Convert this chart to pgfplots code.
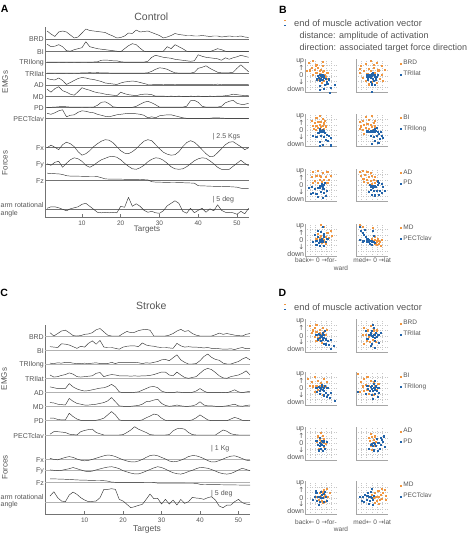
\documentclass[border=0pt]{standalone}
\usepackage{pgfplots}
\pgfplotsset{compat=1.18}
\usepackage{pgfplotstable}
\usepackage{fontspec}
\setmainfont{Liberation Sans}
\newfontfamily\dv{DejaVu Sans}
\definecolor{txt}{RGB}{85,85,85}
\definecolor{trc}{RGB}{55,55,55}
\definecolor{orgC}{RGB}{240,150,65}
\definecolor{bluC}{RGB}{35,100,170}

\pgfplotstableread{
t BRD BI TRIlong TRIlat AD MD PD PECT Fx Fy Fz ang
1 0.8 0.75 0.02 0.02 0.65 0.75 0 0.5 0 0.05 0.75 0.1
2 0.5 0.5 0.02 0.02 0.55 0.45 0 0.4 0.25 -0.1 0.72 0.25
3 0.25 0.55 0.02 0.03 0.5 0.8 0.02 0.55 0.05 0.2 0.7 0.25
4 0.7 0.7 0.03 0.02 0.7 1.0 0.05 0.75 -0.2 0.3 0.68 0.15
5 0.8 0.5 0.02 0.02 0.45 0.6 0.1 0.85 0.3 -0.3 0.62 0
6 0.7 0.1 0.03 0.03 0.05 0.45 0.05 0.15 0.55 0.1 0.5 -0.15
7 0.4 0.05 0.02 0.02 0.25 0.25 0.02 0.3 0.4 0.45 0.46 0.05
8 0.1 0.2 0.03 0.03 0.45 0.15 0.02 0.35 0.1 0.65 0.45 0.15
9 0.2 0.3 0.02 0.02 0.65 0.5 0.02 0.6 -0.4 0.55 0.45 0.25
10 0.6 0.4 0.03 0.04 0.75 0.9 0.03 0.75 -0.75 0.3 0.44 0.5
11 1.0 1.0 0.03 0.05 0.7 0.75 0.02 0.7 -0.6 -0.1 0.43 0.6
12 0.85 0.5 0.02 0.06 0.6 0.65 0.03 0.6 -0.3 -0.3 0.42 0.3
13 0.8 0.4 0.03 0.05 0.55 0.5 0.02 0.55 0.1 -0.1 0.42 0
14 0.75 0.3 0.05 0.06 0.45 0.4 0.2 0.4 0.4 0.2 0.41 -0.3
15 0.7 0.25 0.2 0.05 0.35 0.35 0.5 0.3 0.65 0.45 0.3 -0.35
16 0.65 0.2 0.22 0.04 0.2 0.25 0.55 0.2 0.8 0.6 0.18 -0.3
17 0.45 0.15 0.2 0.03 0.15 0.2 0.35 0.15 0.75 0.75 0.16 -0.35
18 0.3 0.1 0.15 0.02 0.1 0.15 0.05 0.25 0.5 0.8 0.16 -0.3
19 0.1 0.05 0.15 0.02 0.05 0.1 0 0.35 0.1 0.7 0.15 -0.35
20 0.15 0 0.05 0.02 0.2 0.45 0 0.4 -0.3 0.45 0.15 0.3
21 0.3 0.3 0.02 0.02 0.3 0.3 0 0.45 -0.55 0.1 0.14 0.2
22 0.6 0.6 0.02 0.02 0.35 0.2 0 0.5 -0.6 -0.2 0.14 1.2
23 0.55 0.8 0.02 0.02 0.4 0.15 0 0.5 -0.4 -0.45 0.13 0.3
24 0.9 0.7 0.02 0.02 0.35 0.1 0.1 0.45 -0.1 -0.5 0.13 0.55
25 0.7 0.35 0.02 0.02 0.25 0.2 0.3 0.4 0.3 -0.35 0.12 0.3
26 0.75 0.05 0.02 0.02 0.15 0.25 0.5 0.3 0.65 -0.1 0.1 -0.1
27 0.8 0 0.1 0.05 0.05 0.25 0.6 0.05 0.8 0.25 0.08 -0.3
28 0.65 0 0.5 0.2 0.05 0.2 0.45 0.15 0.7 0.5 -0.1 -0.2
29 0.5 0 0.7 0.4 0.03 0.05 0.25 0.05 0.3 0.65 -0.14 -0.35
30 0.35 0 0.6 0.55 0.03 0.05 0.02 0.25 -0.1 0.6 -0.15 -0.4
31 0.1 0.05 0.5 0.5 0.05 0.05 0.02 0.3 -0.45 0.4 -0.16 -0.15
32 0.2 0.5 0.45 0.4 0.03 0.04 0.02 0.35 -0.65 0.1 -0.17 0.35
33 0.35 0.3 0.4 0.2 0.03 0.05 0.02 0.35 -0.75 -0.25 -0.18 0.6
34 0.55 0.7 0.3 0.05 0.05 0.04 0.02 0.25 -0.7 -0.45 -0.18 0.85
35 0.45 0.5 0.25 0.02 0.03 0.05 0.02 0.15 -0.4 -0.5 -0.2 0.6
36 0.4 0.3 0.2 0.02 0.03 0.04 0.02 0.05 0.1 -0.45 -0.2 -0.2
37 0.35 0.05 0.15 0.02 0.03 0.03 0.1 0 0.5 -0.25 -0.22 -0.4
38 0.35 0 0.1 0.02 0.04 0.05 0.65 0 0.7 0.05 -0.23 0.1
39 0.3 0 0.15 0.1 0.03 0.04 0.7 0 0.55 0.35 -0.25 -0.35
40 0.3 0 0.75 0.5 0.03 0.05 0.5 0 0.2 0.55 -0.5 -0.1
41 0.35 0 0.6 0.6 0.03 0.04 0.1 0 -0.2 0.65 -0.52 0.1
42 0.3 0 0.5 0.75 0.04 0.03 0.02 0 -0.6 0.6 -0.53 -0.3
43 0.25 0 0.45 0.5 0.03 0.05 0.02 0 -0.9 0.35 -0.55 0.05
44 0.3 0.15 0.4 0.3 0.05 0.04 0.02 0.05 -0.85 0.05 -0.56 -0.15
45 0.3 0.3 0.35 0.1 0.08 0.05 0.02 0.05 -0.5 -0.3 -0.57 0.45
46 0.2 0.2 0.2 0.05 0.05 0.05 0.1 0.02 -0.1 -0.5 -0.58 -0.1
47 0.25 0.05 0.45 0.05 0.03 0.1 0.45 0 0.3 -0.5 -0.6 -0.3
48 0.3 0 0.3 0.05 0.03 0.15 0.6 0 0.55 -0.5 -0.6 -0.3
49 0.25 0 0.45 0.1 0.03 0.25 0.7 0 0.6 -0.2 -0.62 -0.35
50 0.25 0 0.55 0.5 0.03 0.2 0.4 0 0.35 0.1 -0.65 -0.5
51 0.3 0 0.7 0.85 0.03 0.15 0.3 0 0.1 0.4 -0.75 -0.2
52 0.2 0 0.6 0.5 0.03 0.12 0.3 0 -0.2 0.1 -0.8 -0.45
53 0.15 0 0.5 0.15 0.03 0.1 0.4 0 0 -0.15 -0.8 0.1
}\tA

\pgfplotstableread{
t BRD BI TRIlong TRIlat AD MD PD PECT Fx Fy Fz ang
1 0.4 0.4 0.1 0.4 0.7 0.5 0.3 0.1 0.15 0.2 0.85 2.0
2 0 0.35 0.05 0.15 0.6 0.45 0.3 0.4 -0.1 0.1 0.85 3.3
3 0.3 0.3 0.15 0.2 0.5 0.3 0.15 0.4 -0.2 0 0.82 1.5
4 0.6 0.75 0.1 0.35 0.5 0.25 0.1 0.35 0.1 0.1 0.8 0.5
5 0.7 0.7 0.2 0.45 0.5 0.2 0.1 0.3 0.4 0.3 0.75 0.3
6 0.4 0.6 0.2 0.65 1.1 1.0 0.9 0.1 0.6 0.5 0.7 2.3
7 0.05 0.4 0.1 0.5 0.7 0.65 0.5 0.05 0.4 0.8 0.65 3.2
8 0 0.2 0.05 0.2 0.45 0.4 0.2 0 0 0.5 0.6 2.5
9 0.05 0.45 0.05 0.15 0.3 0.3 0.05 0.4 -0.3 0.2 0.55 1.5
10 0.2 0.35 0.1 0.2 0.2 0.2 0.05 0.55 -0.45 -0.1 0.55 0.8
11 0.25 0.8 0.05 0.25 0.25 0.2 0.05 0.65 -0.35 -0.25 0.5 0.3
12 0.4 1.1 0.1 0.3 0.35 0.25 0.05 0.7 -0.1 -0.1 0.5 0.4
13 0.75 0.7 0.15 0.6 0.45 0.3 0.05 0.3 0.2 0.2 0.45 0.5
14 0.9 1.15 0.05 0.7 0.55 0.4 0.15 0.15 0.5 0.45 0.45 1.5
15 0.5 0.35 0.05 0.2 0.6 0.5 0.3 0 0.8 0.7 0.4 4.0
16 0.1 0.3 0.05 0.35 0.75 0.7 0.7 0 1.0 0.9 0.3 4.0
17 0 0.3 0.2 0.45 1.0 1.1 1.1 0 0.9 1.0 0.05 4.2
18 0 0.2 0.05 0.4 0.7 0.6 0.7 0 0.6 0.8 0 4.0
19 0 0.1 0.2 0.3 0.1 0.1 0.1 0 0.2 0.5 0 1.0
20 0.3 0.35 0.2 0.3 0 0.05 0 0.05 -0.2 0 -0.02 0.5
21 0.55 0.45 0.2 0.3 0 0.05 0 0.3 -0.5 -0.3 -0.02 -0.5
22 0.4 0.5 0.2 0.25 0 0.05 0 0.6 -0.7 -0.6 -0.03 -1.5
23 0.45 0.5 0.2 0.3 0.05 0.1 0 1.0 -0.75 -0.8 -0.03 -1.2
24 0.65 0.4 0.15 0.25 0.1 0.15 0 0.7 -0.5 -0.8 -0.04 -0.8
25 0.75 0.85 0.05 0.3 0.3 0.3 0.1 0.5 -0.1 -0.5 -0.04 -0.5
26 0.8 0.6 0.15 0.3 0.5 0.6 0.35 0.3 0.4 -0.1 -0.05 1.0
27 0.7 0.5 0.1 0.35 0.7 0.65 0.55 0.05 0.85 0.3 -0.05 2.6
28 0 0.45 0.2 0.45 0.75 0.8 0.8 0 1.0 0.7 -0.06 1.2
29 0 0.35 0.3 0.6 0.6 0.9 0.7 0 0.8 1.0 -0.2 1.3
30 0 0.3 0.5 0.75 0.2 0.4 0.3 0 0.4 0.8 -0.2 -0.4
31 0 0.3 0.55 0.75 0.05 0.15 0.05 0 0 0.4 -0.21 1.0
32 0.1 0.25 0.4 0.4 0 0.05 0 0.05 -0.5 -0.1 -0.21 -0.4
33 0.3 0.2 0.75 0.3 0 0.1 0 0.5 -0.7 -0.5 -0.22 0.8
34 0.6 0.8 1.1 0.75 0.1 0.2 0 0.75 -0.6 -0.75 -0.22 -0.7
35 0.8 0.5 0.5 0.4 0.05 0.1 0 0.8 -0.3 -0.85 -0.23 1.0
36 0.55 0.35 0.2 0.1 0 0.05 0 0.7 0.1 -0.6 -0.23 -0.2
37 0.65 0.4 0 0 0 0.05 0 0.3 0.6 -0.2 -0.24 0.3
38 0.3 0.35 0 0.1 0.05 0.1 0.1 0.05 0.85 0.1 -0.24 1.6
39 0.1 0.35 0.05 0.2 0.2 0.25 0.35 0 0.8 0.5 -0.25 1.4
40 0 0.3 0.4 0.6 0.5 0.6 0.7 0 0.5 0.8 -0.5 1.3
41 0 0.25 0.9 1.0 0.2 0.2 0.4 0 0.1 0.75 -0.55 1.0
42 0 0.3 1.2 1.2 0 0.1 0.1 0 -0.4 0.6 -0.56 1.5
43 0 0.2 0.8 1.05 0 0.1 0 0 -0.75 0.3 -0.57 1.8
44 0.15 0.2 0.55 0.7 0 0.05 0 0 -0.7 -0.1 -0.58 0.8
45 0.35 0.15 0.45 0.3 0 0.05 0 0.3 -0.4 -0.5 -0.6 -1.0
46 0.2 0.1 0.1 0.05 0.05 0.05 0 0.6 0 -0.75 -0.62 -1.5
47 0.3 0.1 0 0 0 0.1 0 0.45 0.4 -0.85 -0.64 -0.7
48 0.2 0.15 0 0.2 0.15 0.2 0.2 0.15 0.7 -0.7 -0.65 -0.7
49 0.1 0.05 0.15 0.3 0.35 0.3 0.4 0.05 0.8 -0.3 -0.66 0.3
50 0.05 0.2 0.3 0.4 0.1 0.1 0.25 0 0.5 0.2 -0.68 1.0
51 0 0.3 0.6 0.6 0 0.05 0.05 0 0.1 0.6 -0.69 0
52 0.2 0.15 0.8 0.9 0.1 0.15 0.05 0 -0.3 0.3 -0.7 -0.4
53 0.3 0.2 0.5 0.4 0.15 0.2 0 0 -0.4 0 -0.7 -0.6
}\tC

\pgfplotsset{
  trax/.style={scale only axis, anchor=south west,
    axis x line=bottom, axis y line=left,
    axis line style={-,black!55,line width=0.5pt},
    xtick={10,20,30,40,50}, ytick=\empty, tick align=inside,
    major tick length=3pt, tick style={black!55,line width=0.5pt},
    xticklabel style={font=\fontsize{6.5}{7}\selectfont, text=txt},
    /pgf/number format/assume math mode=true, clip=false},
  tr/.style={trc, line width=0.45pt, line join=round},
  baseA/.style={black!55, line width=0.45pt},
  baseC/.style={black!30, line width=0.9pt},
  sc/.style={scale only axis, anchor=south west, width=31.5pt, height=33pt,
    xmin=-1, xmax=1, ymin=-1, ymax=1, axis lines=left,
    axis line style={-,black!35,line width=0.5pt},
    xtick={-0.66,-0.33,0,0.33,0.66}, ytick={-0.66,-0.33,0,0.33,0.66},
    xticklabels={}, yticklabels={}, major tick length=0pt,
    grid=major, grid style={black!22, dotted, line width=0.3pt}, clip=false,
    legend style={at={(axis description cs:1.4,1.03)}, anchor=north west,
      draw=none, fill=none, font=\fontsize{6.5}{7}\selectfont, text=txt,
      inner sep=0pt, row sep=0.6pt, cells={anchor=west}},
    legend image code/.code={\draw[##1] plot coordinates {(0pt,0pt)};}},
  po/.style={only marks, mark=square*, mark size=0.55pt, color=orgC, mark options={line width=0.1pt}},
  pb/.style={only marks, mark=square*, mark size=0.55pt, color=bluC, mark options={line width=0.1pt}},
}

\tikzset{lab/.style={font=\fontsize{7}{8}\selectfont, text=txt, inner sep=0pt},
  lbl/.style={font=\bfseries\fontsize{10.5}{12}\selectfont, inner sep=0pt}}

\newcommand\ud[1]{%
  \node[lab, anchor=east] at (304.3pt,#1pt+30.5pt) {up};
  \node[lab] at (301.3pt,#1pt+24pt) {\dv ↑};
  \node[lab] at (301.3pt,#1pt+16.7pt) {0};
  \node[lab] at (301.3pt,#1pt+10pt) {\dv ↓};
  \node[lab, anchor=east] at (304.3pt,#1pt+3pt) {down};}

\begin{document}
\begin{tikzpicture}
\path[use as bounding box] (0pt,0pt) rectangle (467pt,534pt);

% ================= Panel A =================
\begin{axis}[trax, at={(45pt,316.5pt)}, width=204pt, height=190.8pt,
  xmin=0.46, xmax=53.1, ymin=0, ymax=190.8]
\pgfplotsinvokeforeach{178.5,165.8,155.2,144.2,132.5,120.8,110.2,99.2,69.8,53.2,36.8,8.2}{
  \addplot[baseA] coordinates {(0.46,#1) (53.1,#1)};}
\addplot[tr] table[x=t, y expr=178.5+10*\thisrow{BRD}] {\tA};
\addplot[tr] table[x=t, y expr=165.8+10*\thisrow{BI}] {\tA};
\addplot[tr] table[x=t, y expr=155.2+10*\thisrow{TRIlong}] {\tA};
\addplot[tr] table[x=t, y expr=144.2+10*\thisrow{TRIlat}] {\tA};
\addplot[tr] table[x=t, y expr=132.5+10*\thisrow{AD}] {\tA};
\addplot[tr] table[x=t, y expr=120.8+10*\thisrow{MD}] {\tA};
\addplot[tr] table[x=t, y expr=110.2+10*\thisrow{PD}] {\tA};
\addplot[tr] table[x=t, y expr=99.2+10*\thisrow{PECT}] {\tA};
\addplot[tr] table[x=t, y expr=69.8+10*\thisrow{Fx}] {\tA};
\addplot[tr] table[x=t, y expr=53.2+10*\thisrow{Fy}] {\tA};
\addplot[tr] table[x=t, y expr=36.8+10*\thisrow{Fz}] {\tA};
\addplot[tr] table[x=t, y expr=8.2+10*\thisrow{ang}] {\tA};
\end{axis}

% ================= Panel C =================
\begin{axis}[trax, at={(45pt,19.7pt)}, width=205.4pt, height=189.3pt,
  xmin=-0.3, xmax=53.1, ymin=0, ymax=189.3]
\pgfplotsinvokeforeach{178.3,164.3,150.3,136,121.6,107.6,93.6,79.3,55.3,43.6,32,11.6}{
  \addplot[baseC] coordinates {(-0.3,#1) (53.1,#1)};}
\addplot[tr] table[x=t, y expr=178.3+8.3*\thisrow{BRD}] {\tC};
\addplot[tr] table[x=t, y expr=164.3+8.3*\thisrow{BI}] {\tC};
\addplot[tr] table[x=t, y expr=150.3+8.3*\thisrow{TRIlong}] {\tC};
\addplot[tr] table[x=t, y expr=136+8.3*\thisrow{TRIlat}] {\tC};
\addplot[tr] table[x=t, y expr=121.6+8.3*\thisrow{AD}] {\tC};
\addplot[tr] table[x=t, y expr=107.6+8.3*\thisrow{MD}] {\tC};
\addplot[tr] table[x=t, y expr=93.6+8.3*\thisrow{PD}] {\tC};
\addplot[tr] table[x=t, y expr=79.3+8.3*\thisrow{PECT}] {\tC};
\addplot[tr] table[x=t, y expr=55.3+4*\thisrow{Fx}] {\tC};
\addplot[tr] table[x=t, y expr=43.6+4*\thisrow{Fy}] {\tC};
\addplot[tr] table[x=t, y expr=32+4*\thisrow{Fz}] {\tC};
\addplot[tr] table[x=t, y expr=11.6+3.33*\thisrow{ang}] {\tC};
\end{axis}

% ================= Panel B scatter =================
\begin{axis}[sc, at={(305pt,441.7pt)}]
\addplot[po] coordinates {(-0.8,0.8)(-0.5,0.9)(-0.3,0.7)(0.1,0.85)(-0.9,0.3)(-0.7,0.35)(-0.6,0.5)(-0.4,0.4)(-0.2,0.5)(0,0.4)(0.1,0.6)(0.2,0.3)(-0.3,0.2)(-0.1,0.15)(0.15,0.1)(-0.5,0.05)(0.3,-0.05)(0.2,-0.3)(0.05,-0.4)(-0.2,-0.2)(0.4,0.2)(-0.1,0.3)(0,-0.1)(0.1,0.25)(-0.35,0.6)(-0.05,0.05)(0.25,0.05)(0.35,-0.15)};
\addplot[pb] coordinates {(0,0)(-0.1,0.05)(0.05,-0.05)(-0.15,-0.1)(0.1,0.05)(-0.05,-0.15)(0.05,0.1)(-0.2,0)(0.15,-0.1)(0,-0.2)(0.1,-0.25)(-0.1,-0.3)(0.2,0)(0.3,-0.15)(0.5,-0.2)(0.4,-0.45)(0.25,-0.55)(-0.05,-0.6)(-0.1,-0.85)(0.6,-0.7)(0.85,-0.55)(0.55,-1.0)(0.15,-0.75)(-0.25,-0.2)(0.35,-0.35)};
\end{axis}
\begin{axis}[sc, at={(356pt,441.7pt)}]
\addplot[po] coordinates {(-0.7,0.6)(-0.4,0.75)(-0.1,0.9)(0.3,0.8)(0.6,0.6)(0.8,0.4)(-0.8,0.2)(-0.5,0.3)(-0.2,0.45)(0.1,0.5)(0.4,0.35)(0.6,0.1)(-0.6,-0.1)(-0.3,0.15)(0.2,0.2)(0.5,-0.15)(-0.4,-0.3)(0,-0.35)(0.3,-0.4)(-0.2,-0.5)(0.1,0.7)(-0.05,0.3)(0.7,-0.3)(-0.75,0.45)};
\addplot[pb] coordinates {(-0.3,-0.05)(-0.2,0.05)(-0.1,0.1)(0,0.12)(0.1,0.1)(0.2,0.05)(0.3,-0.05)(-0.15,-0.05)(0.15,-0.05)(0,0)(-0.05,-0.1)(0.05,-0.15)(-0.25,-0.2)(0.25,-0.2)(0.1,-0.3)(-0.1,-0.35)(0,-0.5)(0.2,-0.55)(0,-0.95)(-0.35,0.1)(0.35,0.1)(0.05,0.2)};
\legend{BRD,TRIlat}
\end{axis}
\begin{axis}[sc, at={(305pt,387.3pt)}]
\addplot[po] coordinates {(-0.6,0.6)(-0.3,0.75)(-0.1,0.9)(0.1,0.7)(-0.4,0.45)(-0.2,0.5)(0,0.55)(0.2,0.45)(-0.5,0.3)(-0.3,0.3)(-0.1,0.35)(0.1,0.3)(0.3,0.25)(-0.2,0.15)(0,0.2)(0.2,0.1)(-0.45,0.1)(0.05,0.05)(-0.15,0.55)(0.25,0.6)(-0.35,0.05)(0.15,0.4)};
\addplot[pb] coordinates {(0,0)(-0.1,-0.05)(0.1,0.05)(-0.05,0.1)(0.05,-0.1)(0.15,-0.05)(-0.15,-0.15)(0.25,-0.15)(0.35,-0.25)(0.5,-0.3)(0.6,-0.45)(0.2,-0.4)(0,-0.35)(-0.3,-0.4)(-0.5,-0.3)(-0.1,-0.7)(0.1,-0.85)(0.45,-0.65)(0.6,-0.9)(-0.1,-0.95)(0.3,-0.55)(-0.2,-0.15)};
\end{axis}
\begin{axis}[sc, at={(356pt,387.3pt)}]
\addplot[po] coordinates {(-0.8,0.5)(-0.6,0.6)(-0.4,0.8)(-0.2,0.65)(0,0.9)(-0.7,0.25)(-0.5,0.35)(-0.3,0.4)(-0.1,0.35)(0.1,0.45)(-0.6,0.05)(-0.4,0.15)(-0.2,0.1)(0,0.2)(0.2,0.25)(-0.3,-0.1)(0.15,0.6)(-0.5,-0.2)(-0.8,0.1)(0.05,0.05)};
\addplot[pb] coordinates {(0,0)(0.1,0.05)(0.2,0.1)(0.3,0.15)(-0.1,-0.05)(-0.2,-0.1)(0.05,-0.1)(0.15,-0.05)(0.25,0)(0.35,-0.1)(0.45,-0.2)(0.6,-0.3)(0.7,-0.45)(0.5,-0.5)(0.3,-0.35)(0.1,-0.4)(-0.1,-0.3)(0.2,-0.65)(0,-0.8)(0.4,-0.75)(-0.3,-0.05)(0.55,-0.1)};
\legend{BI,TRIlong}
\end{axis}
\begin{axis}[sc, at={(305pt,332.3pt)}]
\addplot[po] coordinates {(-0.5,0.85)(-0.2,0.9)(0.1,0.75)(0.4,0.8)(-0.6,0.55)(-0.3,0.6)(0,0.55)(0.3,0.55)(0.6,0.6)(-0.4,0.3)(-0.1,0.35)(0.2,0.35)(0.5,0.35)(-0.2,0.15)(0.05,0.2)(0.3,0.15)(-0.5,0.15)(0.15,0.05)(-0.05,0.6)(0.45,0.15)};
\addplot[pb] coordinates {(0,0)(0.1,-0.05)(-0.1,-0.05)(0.05,0.1)(0.15,0.05)(-0.05,-0.15)(0.1,-0.2)(-0.2,-0.15)(0.2,-0.2)(-0.4,-0.2)(-0.6,-0.1)(-0.8,-0.15)(-0.5,-0.45)(-0.3,-0.5)(0,-0.4)(0.2,-0.45)(0.35,-0.3)(-0.2,-0.7)(0.1,-0.75)(0.3,-0.65)(-0.65,-0.5)(0.25,0.15)};
\end{axis}
\begin{axis}[sc, at={(356pt,332.3pt)}]
\addplot[po] coordinates {(-0.8,0.8)(-0.6,0.9)(-0.7,0.6)(-0.45,0.65)(-0.3,0.85)(-0.2,0.55)(0,0.6)(-0.55,0.4)(-0.35,0.35)(-0.1,0.3)(0.1,0.35)(-0.25,0.15)(0,0.1)(0.2,0.15)(-0.1,0.75)(0.15,0.55)(-0.5,0.2)(0.3,0.3)};
\addplot[pb] coordinates {(0,0)(0.1,-0.05)(0.2,0)(-0.1,-0.05)(0.05,-0.15)(0.25,-0.1)(0.35,0.05)(0.45,0.15)(0.6,0.1)(0.7,-0.1)(0.5,-0.3)(0.3,-0.35)(0.1,-0.3)(-0.1,-0.25)(-0.2,-0.4)(0,-0.55)(0.2,-0.6)(0.45,-0.55)(0.65,-0.45)(0.35,0.25)(-0.15,0.05)(0.8,-0.3)};
\legend{AD,PD}
\end{axis}
\begin{axis}[sc, at={(305pt,277.3pt)}]
\addplot[po] coordinates {(0.2,0.8)(0.6,0.6)(0.4,0.45)(0.7,0.3)(-0.2,0.4)(0.3,0.2)(0.1,0.1)(-0.1,0.15)(0,0.3)(0.2,-0.05)(-0.1,-0.05)(0.05,-0.15)(0.15,0.05)(-0.3,0.1)(0.3,-0.2)(0.5,0.15)(0,0.95)(-0.05,0.05)};
\addplot[pb] coordinates {(0,0)(-0.1,0.05)(0.1,-0.05)(-0.05,-0.1)(0.05,0.1)(-0.2,0.2)(0.2,0.25)(-0.3,0)(0.3,-0.1)(-0.4,0.35)(0,0.5)(-0.2,0.6)(0.1,0.85)(-0.05,-0.3)(0.2,-0.3)(-0.3,-0.25)(0.4,0.1)(-0.5,-0.1)(0.15,0.4)(-0.15,-0.15)(0,-0.05)(0.05,0.05)};
\end{axis}
\begin{axis}[sc, at={(356pt,277.3pt)}]
\addplot[po] coordinates {(0.1,0)(0.2,0.05)(0.3,-0.05)(0.4,0)(0.5,-0.1)(0.25,-0.15)(0.35,0.1)(0.15,-0.2)(0,0.1)(0.6,0.05)(0.45,-0.2)(0.2,0.2)(-0.8,0.95)(-0.6,0.8)(0.05,0.75)(0.3,-0.25)(0.55,-0.3)};
\addplot[pb] coordinates {(-0.8,0.8)(-0.7,0.6)(-0.6,0.45)(-0.5,0.35)(-0.4,0.2)(-0.3,0.1)(-0.2,0.05)(-0.1,0)(0,0)(-0.75,0.05)(-0.55,0)(-0.35,-0.05)(-0.2,-0.1)(0,-0.05)(0.1,-0.1)(-0.6,-0.1)(0.05,0.6)(0.1,0.3)(-0.15,-0.2)(0.2,-0.15)(-0.45,0.65)(0,-0.25)};
\legend{MD,PECTclav}
\end{axis}

% ================= Panel D scatter =================
\begin{axis}[sc, at={(305pt,181.7pt)}]
\addplot[po] coordinates {(-0.7,0.6)(-0.4,0.5)(-0.3,0.7)(-0.1,0.4)(0.1,0.5)(-0.6,0.2)(-0.3,0.25)(-0.1,0.2)(0.15,0.25)(0.3,0.1)(-0.4,-0.05)(-0.2,-0.1)(0,0.05)(0.2,-0.1)(-0.3,-0.3)(-0.1,-0.25)(0.05,-0.4)(-0.5,0.35)(0.35,0.4)(-0.15,0.1)};
\addplot[pb] coordinates {(0,0)(-0.1,0.05)(0.1,0.05)(0.05,-0.05)(-0.05,-0.1)(0.15,-0.1)(-0.15,0.15)(0.1,0.2)(0.2,0.1)(0.3,-0.2)(0.45,-0.3)(0.6,-0.25)(0.5,-0.55)(0.3,-0.5)(0.15,-0.45)(0.8,-0.6)(0.65,-0.8)(-0.2,-0.2)(0,-0.3)(0.25,0.3)(-0.3,0.1)(0.1,-0.2)};
\end{axis}
\begin{axis}[sc, at={(356pt,181.7pt)}]
\addplot[po] coordinates {(-0.5,0.5)(-0.3,0.3)(-0.1,0.6)(0.1,0.45)(0.3,0.35)(-0.6,0.1)(-0.4,0.05)(-0.2,-0.05)(0.2,0.15)(0.35,0.05)(-0.35,-0.3)(-0.15,-0.35)(0.05,-0.25)(0.25,-0.35)(-0.5,-0.45)(0.1,0.3)(-0.25,0.35)};
\addplot[pb] coordinates {(0,0)(0.1,0.05)(0.2,0.1)(-0.1,0.1)(0.05,-0.05)(0.15,-0.1)(-0.05,0.2)(0.25,0.2)(0,0.3)(0.1,0.5)(-0.2,0.05)(0.3,-0.05)(0.4,0.1)(-0.3,-0.15)(0.2,-0.3)(0,-0.45)(0.45,-0.4)(-0.4,0.3)(0.55,0.2)(-0.1,-0.6)(0.2,-0.7)(0.05,0.7)};
\legend{BRD,TRIlat}
\end{axis}
\begin{axis}[sc, at={(305pt,129pt)}]
\addplot[po] coordinates {(-0.85,0.6)(-0.6,0.4)(-0.4,0.75)(-0.2,0.5)(0,0.35)(0.2,0.6)(-0.7,0.2)(-0.5,0.15)(-0.3,0.2)(-0.1,0.15)(0.1,0.2)(0.3,0.1)(-0.2,-0.05)(0,0)(0.2,-0.1)(-0.4,-0.2)(0.1,-0.35)(0.35,0.4)};
\addplot[pb] coordinates {(0,0)(-0.05,0.05)(0.05,0.1)(0.1,-0.05)(-0.1,-0.1)(0.15,0.05)(-0.15,0.1)(0.2,-0.15)(0.3,-0.25)(0.45,-0.35)(0.55,-0.55)(0.35,-0.5)(0.15,-0.4)(-0.1,-0.3)(0.85,-0.75)(0.6,-0.25)(-0.25,-0.2)(0.05,0.25)(0.25,0.2)(0.4,0.05)(-0.3,0.05)};
\end{axis}
\begin{axis}[sc, at={(356pt,129pt)}]
\addplot[po] coordinates {(-0.9,0.9)(-0.7,0.4)(-0.5,0.6)(-0.3,0.7)(-0.1,0.5)(0.1,0.4)(-0.6,0.15)(-0.4,0.25)(-0.2,0.2)(0.2,0.2)(-0.5,-0.1)(-0.3,-0.05)(0.3,-0.05)(-0.2,-0.3)(0.1,-0.35)(0.4,0.3)(-0.8,-0.2)};
\addplot[pb] coordinates {(0,0)(0.1,0.05)(0.2,0)(0.05,-0.1)(0.15,-0.05)(-0.05,0.1)(0.25,0.15)(0,0.2)(0.1,0.3)(0.3,-0.15)(-0.15,-0.15)(0.2,-0.3)(0,-0.35)(0.4,0.05)(-0.25,0)(-0.9,-0.2)(-0.4,-0.3)(0.35,-0.5)(0.05,-0.6)(0.15,0.5)(-0.3,0.2)(0.45,-0.25)};
\legend{BI,TRIlong}
\end{axis}
\begin{axis}[sc, at={(305pt,74pt)}]
\addplot[po] coordinates {(0,0.65)(-0.2,0.45)(0.1,0.5)(0.2,0.3)(-0.1,0.25)(0,0.1)(0.15,0.05)(-0.25,0.1)(0.3,0)(-0.05,-0.1)(0.2,-0.2)(-0.15,-0.3)};
\addplot[pb] coordinates {(0,0)(-0.1,0.05)(0.05,-0.05)(0.1,0.1)(-0.05,-0.15)(0.15,-0.1)(-0.2,-0.05)(0.2,0.15)(0,-0.3)(-0.15,-0.4)(0.1,-0.45)(-0.3,0.2)(0.25,-0.3)(-0.1,0.35)(0.05,0.2)(0.35,0.1)};
\end{axis}
\begin{axis}[sc, at={(356pt,74pt)}]
\addplot[po] coordinates {(-0.1,0.6)(0,0.4)(0.1,0.25)(-0.15,0.2)(0.05,0.05)(-0.1,-0.1)(0.2,-0.15)(0,-0.35)(0.15,0.45)(-0.2,0.35)(0.25,0.1)};
\addplot[pb] coordinates {(0,0)(0.1,0.05)(0.2,0)(0.05,-0.1)(-0.1,-0.05)(0.25,-0.15)(0.4,0.05)(0.55,-0.05)(0.7,0.1)(0.8,-0.2)(0.5,-0.3)(0.3,0.3)(0.55,0.35)(0.75,0.45)(-0.2,-0.3)(0.1,-0.4)(0.35,-0.45)(0.6,0.25)};
\legend{AD,PD}
\end{axis}
\begin{axis}[sc, at={(305pt,19.7pt)}]
\addplot[po] coordinates {(-0.1,0.3)(0.1,0.35)(0.25,0.2)(0.35,0.55)(-0.25,0.1)(0,0.15)(0.15,0.05)(-0.15,-0.1)(0.05,-0.15)(0.25,-0.2)(0.4,0.1)(-0.35,0.3)(0.2,0.5)(0.55,0.3)(-0.05,0.05)(0.1,-0.3)};
\addplot[pb] coordinates {(0,0)(-0.1,0.1)(0.1,0)(-0.2,0.05)(0.05,0.2)(-0.3,0.3)(-0.4,0.1)(0.2,0.25)(0.3,0.05)(-0.05,-0.2)(0.15,-0.25)(-0.25,-0.15)(-0.5,-0.1)(0,0.4)(0.35,-0.15)(-0.15,-0.4)(0.25,0.4)(-0.35,0.45)};
\end{axis}
\begin{axis}[sc, at={(356pt,19.7pt)}]
\addplot[po] coordinates {(0.1,0)(0.25,0.05)(0.4,0.1)(0.55,0.2)(0.7,0.3)(0.85,0.15)(0.3,-0.15)(0.5,-0.1)(0.65,-0.05)(0.2,0.3)(0.4,0.45)(0.6,0.55)(0.8,0.5)(0.15,-0.3)(0.45,-0.35)(0.9,-0.1)(0,0.2)};
\addplot[pb] coordinates {(0,0)(-0.1,0.05)(-0.2,0.1)(-0.3,0.15)(-0.45,0.2)(-0.6,0.1)(-0.8,0.05)(-0.35,-0.1)(-0.15,-0.15)(0.05,-0.1)(-0.5,-0.25)(-0.25,0.3)(-0.1,0.4)(0,0.55)(-0.2,-0.35)(0.1,0.15)(-0.65,-0.15)(0.05,-0.4)};
\legend{MD,PECTclav}
\end{axis}

% ================= Text =================
\node[lbl] at (4.7pt,525.2pt) {A};
\node[lbl] at (282.8pt,524pt) {B};
\node[lbl] at (4.2pt,240.7pt) {C};
\node[lbl] at (282.5pt,241.5pt) {D};
\node[font=\fontsize{10.5}{12}\selectfont, text=txt] at (151.3pt,517.3pt) {Control};
\node[font=\fontsize{10.5}{12}\selectfont, text=txt] at (151.3pt,228.2pt) {Stroke};
\node[font=\fontsize{8}{9}\selectfont, text=txt] at (147pt,304pt) {Targets};
\node[font=\fontsize{8.5}{9}\selectfont, text=txt] at (147pt,4.7pt) {Targets};
\node[font=\fontsize{8}{9}\selectfont, text=txt, rotate=90] at (5pt,452pt) {EMGs};
\node[font=\fontsize{8}{9}\selectfont, text=txt, rotate=90] at (5pt,371pt) {Forces};
\node[font=\fontsize{8}{9}\selectfont, text=txt, rotate=90] at (4pt,155pt) {EMGs};
\node[font=\fontsize{8}{9}\selectfont, text=txt, rotate=90] at (5pt,66.5pt) {Forces};
\node[lab, anchor=west, align=left, font=\fontsize{7}{7.5}\selectfont] at (0.5pt,324.5pt) {arm rotational\\angle};
\node[lab, anchor=west, align=left, font=\fontsize{7}{7.5}\selectfont] at (0.5pt,33pt) {arm rotational\\angle};
\node[lab, anchor=west] at (212.5pt,397.3pt) {|\ 2.5 Kgs};
\node[lab, anchor=west] at (212.5pt,334.7pt) {|\ 5 deg};
\node[lab, anchor=west] at (211pt,85.7pt) {|\ 1 Kg};
\node[lab, anchor=west] at (211pt,40.7pt) {|\ 5 deg};
\foreach \y/\t in {495/BRD,482.3/BI,471.7/TRIlong,460.7/TRIlat,449/AD,437.3/MD,426.7/PD,415.7/PECTclav,386.3/Fx,369.7/Fy,353.3/Fz}
  \node[lab, anchor=east] at (44pt,\y pt-0.6pt) {\t};
\foreach \y/\t in {198/BRD,184/BI,170/TRIlong,155.7/TRIlat,141.3/AD,127.3/MD,113.3/PD,99/PECTclav,75/Fx,63.3/Fy,51.7/Fz}
  \node[lab, anchor=east] at (44pt,\y pt-0.6pt) {\t};
\node[inner sep=0pt, align=center, font=\fontsize{2}{5}\selectfont] at (285pt,511pt) {\textcolor{orgC}{\rule{1.3pt}{1.3pt}}\\\textcolor{bluC}{\rule{1.3pt}{1.3pt}}};
\node[lab, anchor=west, font=\fontsize{9.3}{10}\selectfont] at (294pt,511pt) {end of muscle activation vector};
\node[lab, anchor=west, font=\fontsize{9}{10}\selectfont] at (299.5pt,498pt) {distance: amplitude of activation};
\node[lab, anchor=west, font=\fontsize{9}{10}\selectfont] at (299.5pt,486.3pt) {direction: associated target force direction};
\node[inner sep=0pt, align=center, font=\fontsize{2}{5}\selectfont] at (285pt,227.3pt) {\textcolor{orgC}{\rule{1.3pt}{1.3pt}}\\\textcolor{bluC}{\rule{1.3pt}{1.3pt}}};
\node[lab, anchor=west, font=\fontsize{9.3}{10}\selectfont] at (294pt,227.3pt) {end of muscle activation vector};
\ud{441.7}\ud{387.3}\ud{332.3}\ud{277.3}
\ud{181.7}\ud{129}\ud{74}\ud{19.7}
\node[lab, font=\fontsize{6.5}{7}\selectfont] at (316pt,273.7pt) {back{\dv ←} 0 {\dv →}for-};
\node[lab, font=\fontsize{6.5}{7}\selectfont] at (341pt,266pt) {ward};
\node[lab, font=\fontsize{6.5}{7}\selectfont] at (372.2pt,273.7pt) {med{\dv ←} 0 {\dv →}lat};
\node[lab, font=\fontsize{6.5}{7}\selectfont] at (316pt,12.3pt) {back{\dv ←} 0 {\dv →}for-};
\node[lab, font=\fontsize{6.5}{7}\selectfont] at (341pt,4.7pt) {ward};
\node[lab, font=\fontsize{6.5}{7}\selectfont] at (372.2pt,12.3pt) {med{\dv ←} 0 {\dv →}lat};
\end{tikzpicture}
\end{document}
